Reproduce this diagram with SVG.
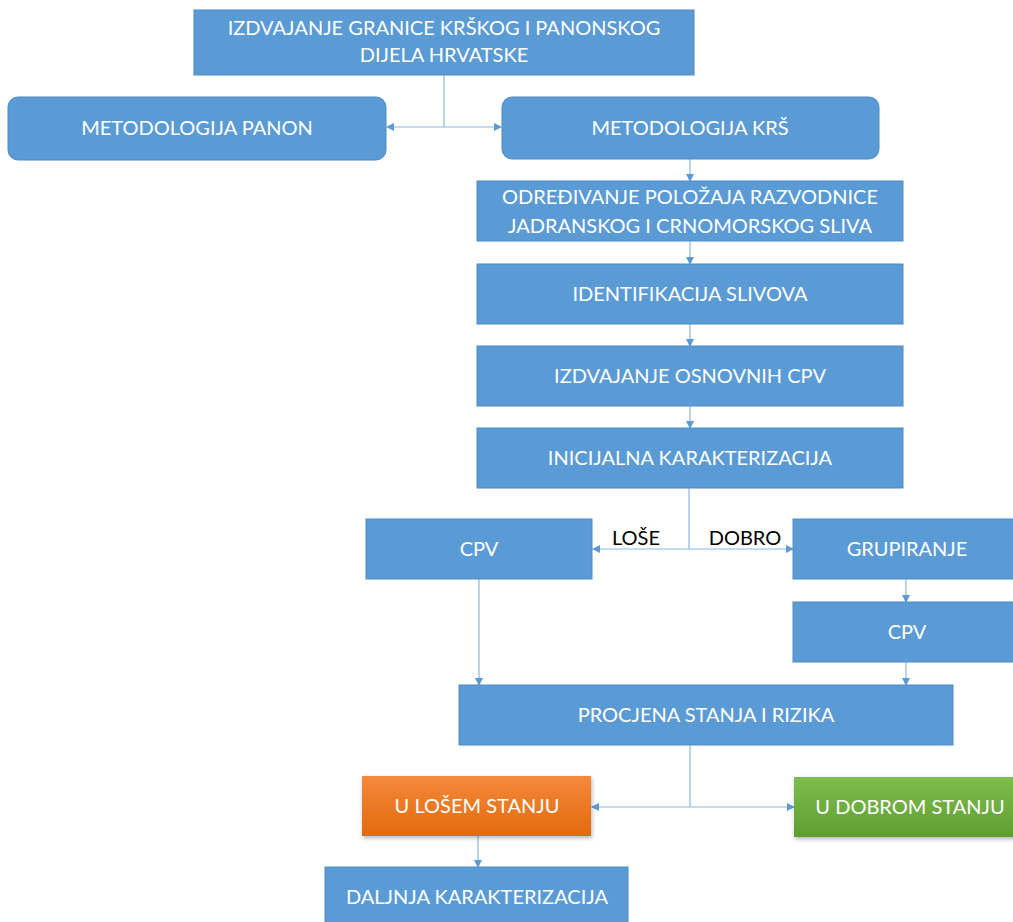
<svg xmlns="http://www.w3.org/2000/svg" width="1013" height="922" viewBox="0 0 1013 922">
<defs>
<style>
.box{fill:#5B9BD5;stroke:#4F8BC6;stroke-width:1}
.t{font-family:Lato,"Liberation Sans",sans-serif;font-size:20px;fill:#FFFFFF;text-anchor:middle}
.lbl{font-family:Lato,"Liberation Sans",sans-serif;font-size:20px;fill:#000000;text-anchor:middle}
.ln{fill:none;stroke:#8DB6E2;stroke-width:1.2}
</style>
<marker id="ah" viewBox="0 0 8 8" refX="7" refY="4" markerWidth="8" markerHeight="8" markerUnits="userSpaceOnUse" orient="auto">
<path d="M0,0 L8,4 L0,8 Z" fill="#5B9BD5"/>
</marker>
<linearGradient id="gOr" x1="0" y1="0" x2="0" y2="1">
<stop offset="0" stop-color="#F5893C"/>
<stop offset="1" stop-color="#E36A0C"/>
</linearGradient>
<linearGradient id="gGr" x1="0" y1="0" x2="0" y2="1">
<stop offset="0" stop-color="#7FBC4E"/>
<stop offset="1" stop-color="#5E9E31"/>
</linearGradient>
<filter id="sh" x="-10%" y="-10%" width="125%" height="130%">
<feDropShadow dx="1" dy="2" stdDeviation="2" flood-color="#000000" flood-opacity="0.3"/>
</filter>
</defs>
<rect width="1013" height="922" fill="#FFFFFF"/>

<g id="connectors">
<path class="ln" d="M444,75 V127"/>
<path class="ln" d="M444,127 H387" marker-end="url(#ah)"/>
<path class="ln" d="M444,127 H501" marker-end="url(#ah)"/>
<path class="ln" d="M690,159 V181" marker-end="url(#ah)"/>
<path class="ln" d="M690,241 V264" marker-end="url(#ah)"/>
<path class="ln" d="M690,324 V346" marker-end="url(#ah)"/>
<path class="ln" d="M690,406 V428" marker-end="url(#ah)"/>
<path class="ln" d="M689,488 V549"/>
<path class="ln" d="M689,549 H593" marker-end="url(#ah)"/>
<path class="ln" d="M689,549 H793" marker-end="url(#ah)"/>
<path class="ln" d="M479,579 V685" marker-end="url(#ah)"/>
<path class="ln" d="M906,579 V602" marker-end="url(#ah)"/>
<path class="ln" d="M906,662 V685" marker-end="url(#ah)"/>
<path class="ln" d="M690,745 V807"/>
<path class="ln" d="M690,807 H592" marker-end="url(#ah)"/>
<path class="ln" d="M690,807 H794" marker-end="url(#ah)"/>
<path class="ln" d="M478,836 V867" marker-end="url(#ah)"/>
<text class="lbl" x="636" y="545">LOŠE</text>
<text class="lbl" x="745" y="545">DOBRO</text>
</g>

<g id="n-granica">
<rect class="box" x="194" y="10" width="500" height="65"/>
<text class="t" x="444" y="35">IZDVAJANJE GRANICE KRŠKOG I PANONSKOG</text>
<text class="t" x="444" y="62">DIJELA HRVATSKE</text>
</g>
<g id="n-panon">
<rect class="box" x="8" y="97" width="378" height="63" rx="10"/>
<text class="t" x="197" y="135">METODOLOGIJA PANON</text>
</g>
<g id="n-krs">
<rect class="box" x="502" y="97" width="377" height="62" rx="10"/>
<text class="t" x="690" y="135">METODOLOGIJA KRŠ</text>
</g>
<g id="n-razvodnica">
<rect class="box" x="477" y="181" width="426" height="60"/>
<text class="t" x="690" y="204">ODREĐIVANJE POLOŽAJA RAZVODNICE</text>
<text class="t" x="690" y="233">JADRANSKOG I CRNOMORSKOG SLIVA</text>
</g>
<g id="n-slivovi">
<rect class="box" x="477" y="264" width="426" height="60"/>
<text class="t" x="690" y="301">IDENTIFIKACIJA SLIVOVA</text>
</g>
<g id="n-osnovni">
<rect class="box" x="477" y="346" width="426" height="60"/>
<text class="t" x="690" y="383">IZDVAJANJE OSNOVNIH CPV</text>
</g>
<g id="n-inicijalna">
<rect class="box" x="477" y="428" width="426" height="60"/>
<text class="t" x="690" y="465">INICIJALNA KARAKTERIZACIJA</text>
</g>
<g id="n-cpv-lose">
<rect class="box" x="366" y="519" width="226" height="60"/>
<text class="t" x="479" y="556">CPV</text>
</g>
<g id="n-grupiranje">
<rect class="box" x="793" y="519" width="228" height="60"/>
<text class="t" x="907" y="556">GRUPIRANJE</text>
</g>
<g id="n-cpv-dobro">
<rect class="box" x="793" y="602" width="228" height="60"/>
<text class="t" x="907" y="639">CPV</text>
</g>
<g id="n-procjena">
<rect class="box" x="459" y="685" width="494" height="60"/>
<text class="t" x="706" y="722">PROCJENA STANJA I RIZIKA</text>
</g>
<g id="n-lose-stanje">
<rect x="362" y="776" width="229" height="60" fill="url(#gOr)" filter="url(#sh)"/>
<text class="t" x="477" y="813">U LOŠEM STANJU</text>
</g>
<g id="n-dobro-stanje">
<rect x="794" y="777" width="228" height="60" fill="url(#gGr)" filter="url(#sh)"/>
<text class="t" x="910" y="814">U DOBROM STANJU</text>
</g>
<g id="n-daljnja">
<rect class="box" x="325" y="867" width="303" height="62"/>
<text class="t" x="477" y="904">DALJNJA KARAKTERIZACIJA</text>
</g>
</svg>
